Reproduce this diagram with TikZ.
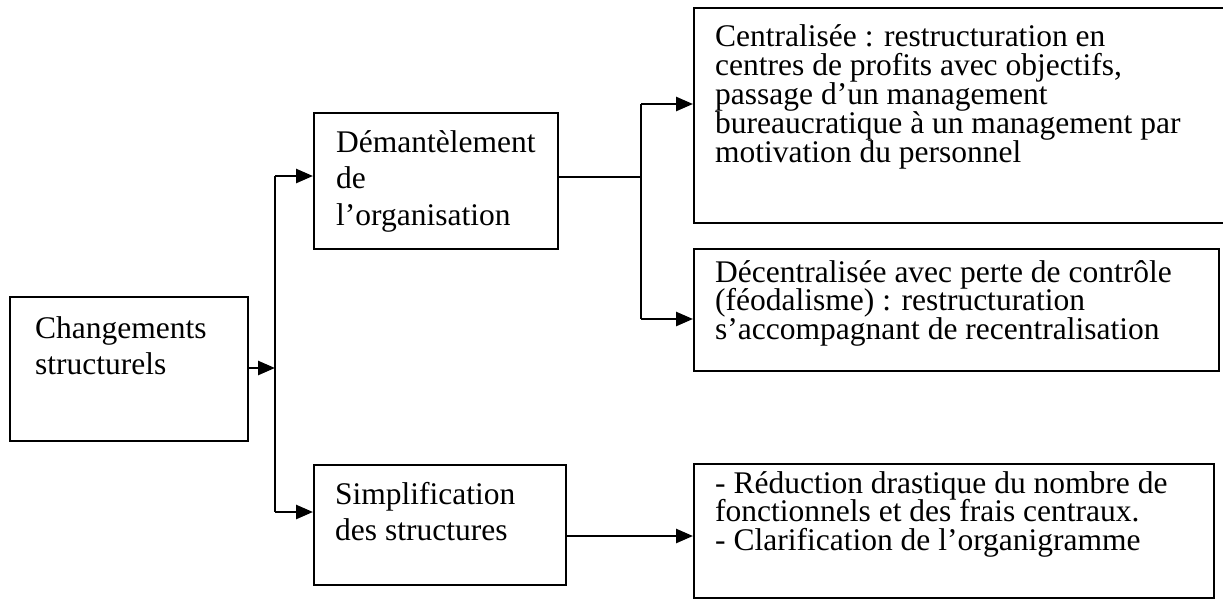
\documentclass[tikz,border=0pt]{standalone}
\usepackage{fontspec}
\setmainfont{Liberation Serif}
\usetikzlibrary{arrows.meta}
\newcommand{\tightlines}{\fontsize{31.5}{28.8}\selectfont\lineskiplimit=-40pt\relax}
\begin{document}
\begin{tikzpicture}[x=1pt,y=-1pt,
  box/.style={draw, line width=1.9pt, inner sep=0pt, anchor=north west},
  % texts are placed by the baseline of their last line
  bigtext/.style={anchor=base west, align=left, inner sep=0pt,
    font=\fontsize{31.5}{36.7}\selectfont},
  smalltext/.style={anchor=base west, align=left, inner sep=0pt,
    font=\tightlines},
  link/.style={line width=2.6pt},
  arr/.style={link, -{Triangle[length=17pt,width=14pt]}}]
\useasboundingbox[fill=white] (0,0) rectangle (1223,608);

% boxes
\node[box, minimum width=238pt, minimum height=144pt] (chg) at (9,296) {};
\node[box, minimum width=244pt, minimum height=136pt] (dem) at (313,112) {};
\node[box, minimum width=252pt, minimum height=120pt] (simp) at (313,464) {};
\node[box, minimum width=540pt, minimum height=215pt] (cent) at (693,7) {};
\node[box, minimum width=525pt, minimum height=122pt] (dec) at (693,248) {};
\node[box, minimum width=520pt, minimum height=134pt] (red) at (693,463) {};

% texts
\node[bigtext] (chgtxt) at (35,374.7) {Changements\\structurels};
\node[bigtext] (demtxt) at (336,225.4) {Démantèlement\\de\\l’organisation};
\node[bigtext] (simptxt) at (335,540.7) {Simplification\\des structures};
\node[smalltext] (centtxt) at (715,162) {Centralisée : restructuration en\\centres de profits avec objectifs,\\passage d’un management\\bureaucratique à un management par\\motivation du personnel};
\node[smalltext] (dectxt) at (715,339.6) {Décentralisée avec perte de contrôle\\(féodalisme) : restructuration\\s’accompagnant de recentralisation};
\node[smalltext] (redtxt) at (715,550.6) {- Réduction drastique du nombre de\\fonctionnels et des frais centraux.\\- Clarification de l’organigramme};

% first-level branching
\coordinate (tA) at (275,368);
\coordinate (tTop) at (275,176);
\coordinate (tBot) at (275,512);
\draw[arr] (chg.east |- tA) -- (tA);
\draw[link] (tTop) -- (tBot);
\draw[arr] (tTop) -- (dem.west |- tTop);
\draw[arr] (tBot) -- (simp.west |- tBot);

% second-level branching
\coordinate (uA) at (641,177);
\coordinate (uTop) at (641,104);
\coordinate (uBot) at (641,319);
\draw[line width=1.9pt] (dem.east |- uA) -- (uA);
\draw[link] (uTop) -- (uBot);
\draw[arr] (uTop) -- (cent.west |- uTop);
\draw[arr] (uBot) -- (dec.west |- uBot);

% simplification outcome
\coordinate (sA) at (565,536);
\draw[arr] (sA) -- (red.west |- sA);
\end{tikzpicture}
\end{document}
